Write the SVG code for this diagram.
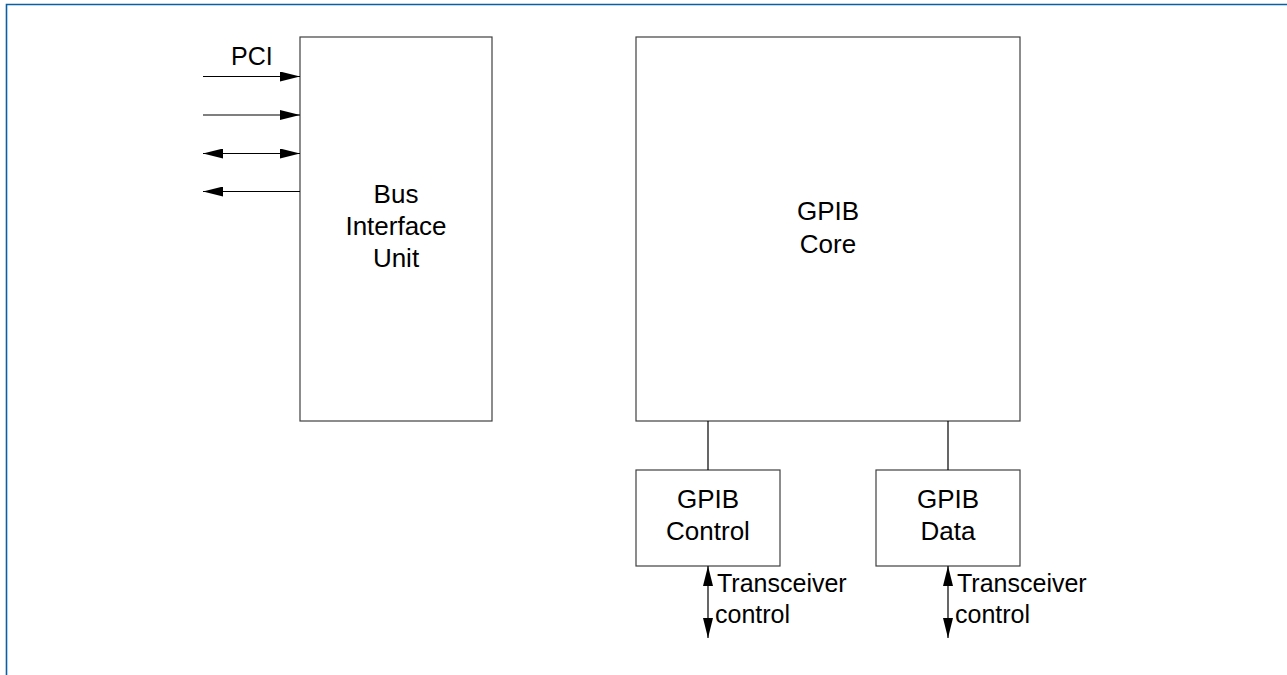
<svg xmlns="http://www.w3.org/2000/svg" width="1287" height="675" viewBox="0 0 1287 675">
<style>
.box{fill:#ffffff;stroke:#404040;stroke-width:1.2}
.ln{stroke:#000000;stroke-width:1.2;fill:none}
.t{font-family:"Liberation Sans",Arial,sans-serif;font-size:25px;fill:#000000}
.c{text-anchor:middle;font-size:26px}
.frame{stroke:#0a5fa3;stroke-width:1.6;fill:none}
</style>
<defs>
<marker id="ah" viewBox="0 0 20 10" refX="20" refY="5" markerWidth="20" markerHeight="10" markerUnits="userSpaceOnUse" orient="auto-start-reverse">
<path d="M0,0 L20,5 L0,10 Z" fill="#000000"/>
</marker>
</defs>
<path class="frame" d="M6.5,675 L6.5,4.5 L1287,4.5"/>
<g id="bus-interface-unit">
<rect class="box" x="300" y="37" width="192" height="384"/>
<text class="t c" x="396" y="203">Bus</text>
<text class="t c" x="396" y="235">Interface</text>
<text class="t c" x="396" y="267">Unit</text>
</g>
<g id="gpib-core">
<rect class="box" x="636" y="37" width="384" height="384"/>
<text class="t c" x="828" y="219.5">GPIB</text>
<text class="t c" x="828" y="252.5">Core</text>
</g>
<g id="gpib-control">
<rect class="box" x="636" y="470" width="144" height="96"/>
<text class="t c" x="708" y="508">GPIB</text>
<text class="t c" x="708" y="540">Control</text>
</g>
<g id="gpib-data">
<rect class="box" x="876" y="470" width="144" height="96"/>
<text class="t c" x="948" y="508">GPIB</text>
<text class="t c" x="948" y="540">Data</text>
</g>
<g id="connectors">
<line class="ln" x1="203" y1="76.5" x2="300" y2="76.5" marker-end="url(#ah)"/>
<line class="ln" x1="203" y1="115" x2="300" y2="115" marker-end="url(#ah)"/>
<line class="ln" x1="203" y1="153.5" x2="300" y2="153.5" marker-start="url(#ah)" marker-end="url(#ah)"/>
<line class="ln" x1="300" y1="191.5" x2="203" y2="191.5" marker-end="url(#ah)"/>
<line class="ln" x1="708" y1="421" x2="708" y2="470"/>
<line class="ln" x1="948" y1="421" x2="948" y2="470"/>
<line class="ln" x1="708" y1="566" x2="708" y2="638" marker-start="url(#ah)" marker-end="url(#ah)"/>
<line class="ln" x1="948" y1="566" x2="948" y2="638" marker-start="url(#ah)" marker-end="url(#ah)"/>
</g>
<g id="labels">
<text class="t" x="231" y="65">PCI</text>
<text class="t" x="717" y="592">Transceiver</text>
<text class="t" x="715" y="623">control</text>
<text class="t" x="957" y="592">Transceiver</text>
<text class="t" x="955" y="623">control</text>
</g>
</svg>
